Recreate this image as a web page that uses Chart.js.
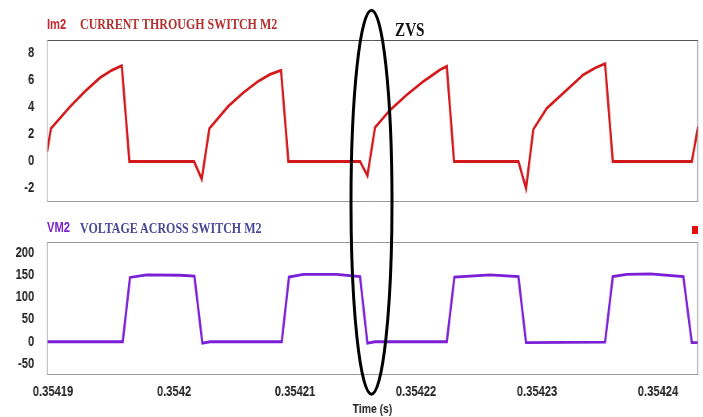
<!DOCTYPE html>
<html lang="en">
<head>
    <meta charset="UTF-8">
    <title>Current and voltage of switch M2</title>
    <script src="https://cdn.jsdelivr.net/npm/chart.js@4.4.0/dist/chart.umd.min.js"></script>
    <style>
        body {
            margin: 0;
            padding: 0;
            background: #fff;
            width: 703px;
            height: 417px;
            overflow: hidden;
            position: relative;
        }
        /* the original picture is squeezed sideways, so text and charts are too */
        .squeeze {
            position: absolute;
            left: 0;
            transform: scaleX(0.8);
            transform-origin: 0 0;
        }
        .label {
            position: absolute;
            white-space: nowrap;
            line-height: 1;
            transform: scaleX(0.8);
            transform-origin: 0 0;
        }
        .sans { font-family: 'Liberation Sans', Arial, sans-serif; font-weight: bold; font-size: 14px; }
        .serif { font-family: 'Liberation Serif', 'Times New Roman', serif; font-weight: bold; font-size: 15px; }
        #overlay {
            position: absolute;
            left: 0;
            top: 0;
            pointer-events: none;
        }
    </style>
</head>
<body>
    <div class="squeeze" style="top:0"><canvas id="imChart" width="879" height="210"></canvas></div>
    <div class="squeeze" style="top:210px"><canvas id="vmChart" width="879" height="207"></canvas></div>

    <div class="label sans" style="left:47px;top:16.5px;color:#c8282e">Im2</div>
    <div class="label serif" style="left:80px;top:16.7px;color:#b3322f">CURRENT THROUGH SWITCH M2</div>
    <div class="label sans" style="left:47px;top:219.8px;color:#7a22cc">VM2</div>
    <div class="label serif" style="left:80px;top:220.7px;color:#4a4896">VOLTAGE ACROSS SWITCH M2</div>
    <div class="label serif" style="left:395px;top:20px;font-size:19px;color:#111">ZVS</div>
    <div style="position:absolute;left:692px;top:226px;width:6px;height:8px;background:#e41010"></div>

    <svg id="overlay" width="703" height="417">
        <ellipse cx="371.5" cy="202.2" rx="20.5" ry="192" fill="none" stroke="#000" stroke-width="3"/>
    </svg>

    <script>
        // time axis (s)
        const timeMin = 0.3541895;
        const timeMax = 0.3542433;
        const timeTicks = [0.35419, 0.3542, 0.35421, 0.35422, 0.35423, 0.35424];
        const timeTickLabels = ['0.35419', '0.3542', '0.35421', '0.35422', '0.35423', '0.35424'];

        // Im2 - current through switch M2 (A)
        const imTime = [
            0.3541895, 0.35418983, 0.35419140, 0.35419264, 0.35419388, 0.35419485, 0.35419568, 0.35419631,
            0.35420165, 0.35420229, 0.35420292, 0.35420449, 0.35420573, 0.35420697, 0.35420793, 0.35420884, 0.35420945,
            0.35421537, 0.35421598, 0.35421661, 0.35421785, 0.35421923, 0.35422060, 0.35422198, 0.35422254, 0.35422314,
            0.35422846, 0.35422909, 0.35422969, 0.35423080, 0.35423246, 0.35423383, 0.35423479, 0.35423562, 0.35423626,
            0.35424279, 0.35424331
        ];
        const imValues = [
            0.70, 2.44, 4.06, 5.20, 6.20, 6.75, 7.10, 0,
            0, -1.30, 2.44, 4.10, 5.10, 5.95, 6.45, 6.75, 0,
            0, -1.05, 2.52, 3.81, 4.93, 5.93, 6.80, 7.05, 0,
            0, -2.00, 2.37, 3.94, 5.31, 6.43, 6.93, 7.25, 0,
            0, 2.60
        ];
        const imTicks = [-2, 0, 2, 4, 6, 8];

        // VM2 - voltage across switch M2 (V)
        const vmTime = [
            0.3541895, 0.35419576, 0.35419636, 0.35419774, 0.35420050, 0.35420168, 0.35420234, 0.35420298,
            0.35420890, 0.35420950, 0.35421069, 0.35421345, 0.35421537, 0.35421598, 0.35421661,
            0.35422254, 0.35422317, 0.35422612, 0.35422846, 0.35422909,
            0.35423562, 0.35423626, 0.35423741, 0.35423934, 0.35424209, 0.35424279, 0.35424331
        ];
        const vmValues = [
            0, 0, 145, 151, 150, 148, -3, 0,
            0, 146, 152, 152, 147, -3, 0,
            0, 146, 151, 147, -2,
            -1, 147, 152, 153, 147, -2, -2
        ];
        const vmTicks = [-50, 0, 50, 100, 150, 200];

        const SX = 0.8;           // horizontal squeeze of the canvases
        const px = v => v / SX;   // page px -> canvas px (horizontal only)

        Chart.defaults.font.family = "'Liberation Sans', Arial, sans-serif";
        Chart.defaults.color = '#222';

        // draws the box round the plot area, each side its own grey
        const framePlugin = {
            id: 'frame',
            afterDraw(chart, args, opts) {
                const { left, top, right, bottom } = chart.chartArea;
                const ctx = chart.ctx;
                const side = (x1, y1, x2, y2, color) => {
                    ctx.beginPath();
                    ctx.strokeStyle = color;
                    ctx.lineWidth = 1;
                    ctx.moveTo(x1, y1);
                    ctx.lineTo(x2, y2);
                    ctx.stroke();
                };
                ctx.save();
                side(left, top + 0.5, right, top + 0.5, opts.top);
                side(right - 0.5, top, right - 0.5, bottom, opts.right);
                side(left, bottom - 0.5, right, bottom - 0.5, opts.bottom);
                side(left + 0.5, top, left + 0.5, bottom, opts.left);
                ctx.restore();
            }
        };

        function yAxis(min, max, tickList) {
            return {
                min: min,
                max: max,
                afterBuildTicks: scale => { scale.ticks = tickList.map(v => ({ value: v })); },
                afterFit: scale => {
                    scale.width = px(47);
                    // labels never sit on the box edge, so no extra room above/below
                    scale.paddingTop = 0;
                    scale.paddingBottom = 0;
                },
                grid: { display: false, drawTicks: false },
                border: { display: false },
                ticks: { padding: 16, font: { size: 14, weight: 'bold' }, color: '#222' }
            };
        }

        const imChart = new Chart(document.getElementById('imChart'), {
            type: 'line',
            data: {
                datasets: [{
                    data: imTime.map((t, i) => ({ x: t, y: imValues[i] })),
                    borderColor: '#d2181a',
                    borderWidth: 2.8,
                    pointRadius: 0,
                    tension: 0
                }]
            },
            options: {
                responsive: false,
                animation: false,
                layout: { padding: { top: 40, bottom: 8, left: 0, right: 879 - px(698) } },
                plugins: {
                    legend: { display: false },
                    tooltip: { enabled: false },
                    frame: { top: '#555', right: '#777', bottom: '#999', left: '#bbb' }
                },
                scales: {
                    x: { type: 'linear', min: timeMin, max: timeMax, display: false },
                    y: yAxis(-3, 9, imTicks)
                }
            },
            plugins: [framePlugin]
        });

        const vmChart = new Chart(document.getElementById('vmChart'), {
            type: 'line',
            data: {
                datasets: [{
                    data: vmTime.map((t, i) => ({ x: t, y: vmValues[i] })),
                    borderColor: '#7a1fd6',
                    borderWidth: 2.8,
                    pointRadius: 0,
                    tension: 0
                }]
            },
            options: {
                responsive: false,
                animation: false,
                layout: { padding: { top: 32, bottom: 0, left: 0, right: 879 - px(698) } },
                plugins: {
                    legend: { display: false },
                    tooltip: { enabled: false },
                    frame: { top: '#999', right: '#888', bottom: '#999', left: '#aaa' }
                },
                scales: {
                    x: {
                        type: 'linear',
                        min: timeMin,
                        max: timeMax,
                        afterBuildTicks: scale => { scale.ticks = timeTicks.map(v => ({ value: v })); },
                        afterFit: scale => { scale.height = 42; },
                        grid: { display: false, drawTicks: false },
                        border: { display: false },
                        ticks: {
                            padding: 9,
                            maxRotation: 0,
                            autoSkip: false,
                            font: { size: 14, weight: 'bold' },
                            callback: (value, index) => timeTickLabels[index]
                        },
                        title: {
                            display: true,
                            text: 'Time (s)',
                            padding: 0,
                            font: { size: 13, weight: 'bold' },
                            color: '#222'
                        }
                    },
                    y: yAxis(-75, 225, vmTicks)
                }
            },
            plugins: [framePlugin]
        });
    </script>
</body>
</html>
